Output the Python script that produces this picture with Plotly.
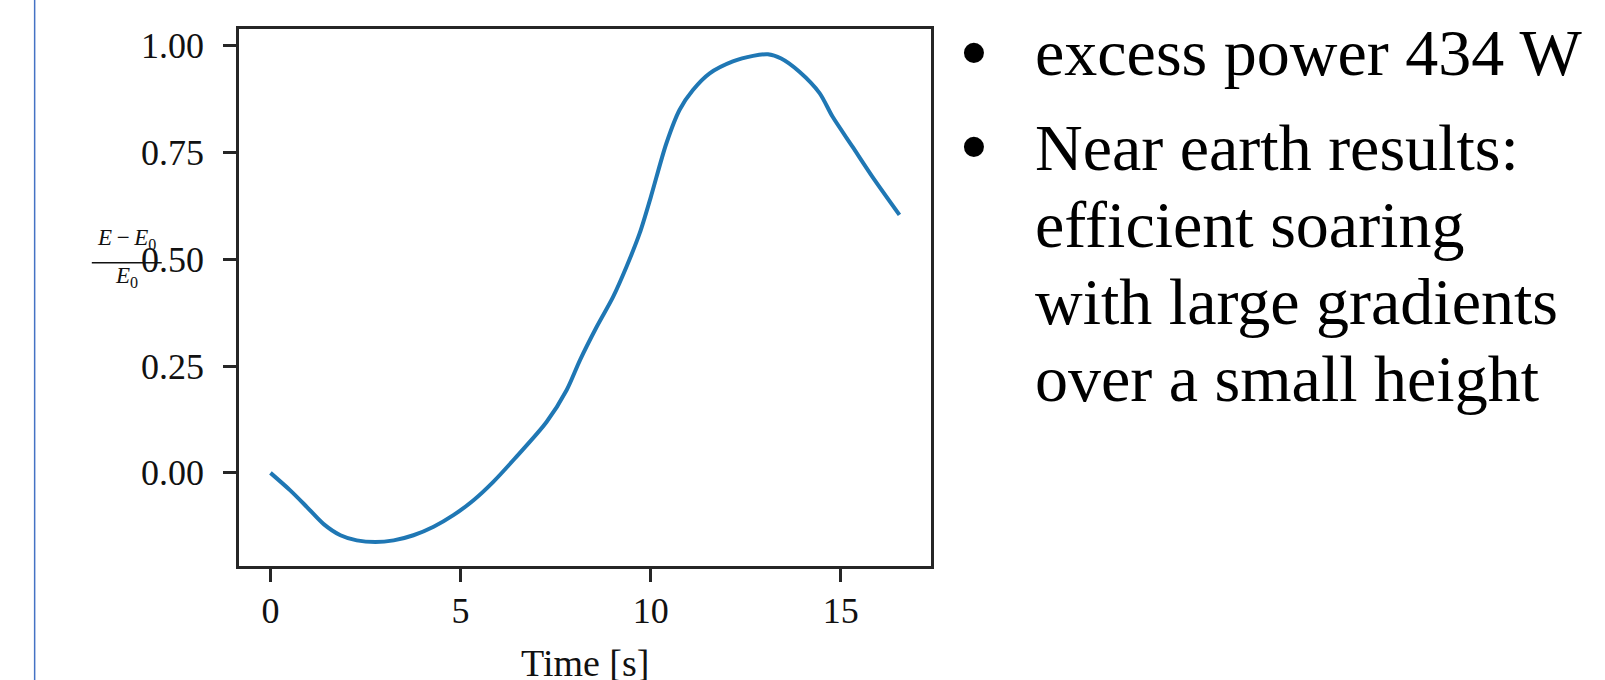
import plotly.graph_objects as go

# Relative energy gain (E - E0) / E0 over the soaring manoeuvre
time_s = [0.0, 0.52, 0.96, 1.40, 1.84, 2.27, 2.76, 3.24, 3.76, 4.29, 4.81, 5.34,
          5.86, 6.42, 7.26, 7.79, 8.14, 8.58, 9.01, 9.36, 9.71, 10.00, 10.41,
          10.76, 11.11, 11.55, 12.16, 12.69, 13.08, 13.43, 13.91, 14.44, 14.78,
          15.31, 15.83, 16.54]
energy_gain = [0.0, -0.041, -0.080, -0.120, -0.146, -0.158, -0.162, -0.158, -0.146,
               -0.126, -0.099, -0.064, -0.021, 0.033, 0.119, 0.194, 0.264, 0.342,
               0.412, 0.482, 0.561, 0.645, 0.771, 0.850, 0.896, 0.935, 0.963,
               0.976, 0.980, 0.970, 0.939, 0.889, 0.834, 0.763, 0.693, 0.604]

x_ticks = [0, 5, 10, 15]
y_ticks = [0.0, 0.25, 0.5, 0.75, 1.0]
y_tick_text = ["0.00", "0.25", "0.50", "0.75", "1.00"]

bullet_lines = [
    ("excess power 434 W", True),
    ("Near earth results:", True),
    ("efficient soaring", False),
    ("with large gradients", False),
    ("over a small height", False),
]

W, H = 1605, 680
L, R, T, B = 239, 931.5, 29, 566   # plot area in pixels
SERIF = "Liberation Serif, Times New Roman, serif"
AXIS_COLOR = "#262626"


def px(fx):
    return (fx - L) / (R - L)


def py(fy):
    return (B - fy) / (B - T)


fig = go.Figure()
fig.add_trace(go.Scatter(
    x=time_s, y=energy_gain, mode="lines",
    line=dict(color="#1f77b4", width=4, shape="spline", smoothing=0.8),
    showlegend=False, hoverinfo="skip",
))

axis_common = dict(
    showline=True, mirror=True, linecolor=AXIS_COLOR, linewidth=2.5,
    ticks="outside", ticklen=13, tickwidth=2.5, tickcolor=AXIS_COLOR,
    showgrid=False, zeroline=False,
    tickfont=dict(family=SERIF, size=36, color="#111111"),
)

fig.update_xaxes(range=[-0.827, 17.37], tickvals=x_ticks, ticklabelstandoff=-2,
                 **axis_common)
fig.update_yaxes(range=[-0.218, 1.039], tickvals=y_ticks, ticktext=y_tick_text,
                 ticklabelstandoff=12, **axis_common)

annotations = []

# x-axis title
annotations.append(dict(
    x=0.5, y=py(676 - 0.3375 * 38), xref="paper", yref="paper",
    text="Time [s]", showarrow=False, xanchor="center", yanchor="middle",
    font=dict(family=SERIF, size=38, color="#111111"),
))

# y-axis label drawn as a stacked fraction
frac_cx = 126.5
annotations.append(dict(
    x=px(frac_cx), y=py(247 - 0.3375 * 23), xref="paper", yref="paper",
    text="<i>E</i>\u2009\u2212\u2009<i>E</i><sub>0</sub>", showarrow=False,
    xanchor="center", yanchor="middle",
    font=dict(family=SERIF, size=23, color="#111111"),
))
annotations.append(dict(
    x=px(frac_cx), y=py(285 - 0.3375 * 23), xref="paper", yref="paper",
    text="<i>E</i><sub>0</sub>", showarrow=False,
    xanchor="center", yanchor="middle",
    font=dict(family=SERIF, size=23, color="#111111"),
))

# bullet text beside the chart
baselines = [75, 170, 247, 324, 401]
bullet_y = [53, 146]
b = 0
for (line, has_bullet), base in zip(bullet_lines, baselines):
    annotations.append(dict(
        x=px(1034), y=py(base - 0.3375 * 66), xref="paper", yref="paper",
        text=line, showarrow=False, xanchor="left", yanchor="middle",
        font=dict(family=SERIF, size=66, color="#000000"),
    ))
    if has_bullet:
        annotations.append(dict(
            x=px(975), y=py(bullet_y[b]), xref="paper", yref="paper",
            text="\u2022", showarrow=False, xanchor="center", yanchor="middle",
            font=dict(family="Liberation Sans, Arial, sans-serif", size=74,
                      color="#000000"),
        ))
        b += 1

shapes = [
    # fraction bar of the y label
    dict(type="line", xref="paper", yref="paper",
         x0=px(91.7), x1=px(161.7), y0=py(262.7), y1=py(262.7),
         line=dict(color="#111111", width=1.5)),
    # slide guide line on the far left
    dict(type="line", xref="paper", yref="paper",
         x0=px(34.5), x1=px(34.5), y0=py(0), y1=py(H),
         line=dict(color="#4472c4", width=1.5)),
]

fig.update_layout(
    width=W, height=H,
    margin=dict(l=L, r=W - R, t=T, b=H - B, pad=0),
    paper_bgcolor="white", plot_bgcolor="white",
    annotations=annotations, shapes=shapes,
)

fig.write_html("out.html")
